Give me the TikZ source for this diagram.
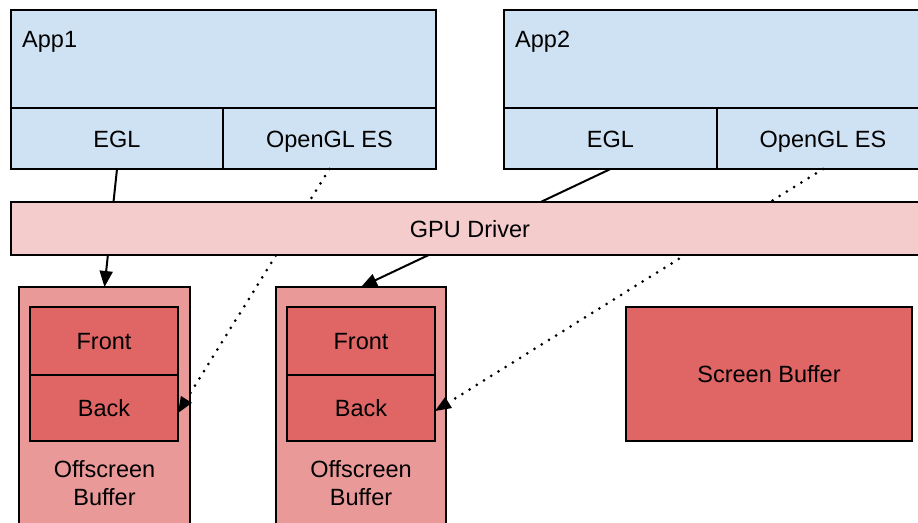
\documentclass[tikz,border=0pt]{standalone}
\usepackage{fontspec}
\setmainfont{Liberation Sans}
\usetikzlibrary{arrows.meta}
\definecolor{appblue}{HTML}{CFE2F3}
\definecolor{gpupink}{HTML}{F4CCCC}
\definecolor{offred}{HTML}{EA9999}
\definecolor{bufred}{HTML}{E06666}
\tikzset{
  box/.style={draw=black, line width=2pt, inner sep=0pt, outer sep=0pt, font=\fontsize{23.5}{28}\selectfont, text height=17pt, text depth=0pt},
  appbox/.style={box, fill=appblue},
  offbox/.style={box, fill=offred},
  bufbox/.style={box, fill=bufred},
  arr/.style={line width=2pt, -{Triangle[length=16pt,width=13pt]}},
  dotarr/.style={line width=3pt, line cap=round, dash pattern=on 0pt off 8.5pt, -{Triangle[length=16pt,width=13pt,line width=0pt]}},
}
\begin{document}
\begin{tikzpicture}[x=1pt,y=-1pt]
\useasboundingbox (0,0) rectangle (918,522);
\clip (0,0) rectangle (918,522);
% App1
\node[appbox, minimum width=425pt, minimum height=98pt] (app1) at (223.5,59) {};
\node[font=\fontsize{23.5}{28}\selectfont, anchor=base west, inner sep=0pt] (app1lbl) at (22,47) {App1};
\node[appbox, minimum width=212pt, minimum height=61pt] (egl1) at (117,138.5) {EGL};
\node[appbox, minimum width=213pt, minimum height=61pt] (gl1) at (329.5,138.5) {OpenGL ES};
% App2
\node[appbox, minimum width=425pt, minimum height=98pt] (app2) at (716.5,59) {};
\node[font=\fontsize{23.5}{28}\selectfont, anchor=base west, inner sep=0pt] (app2lbl) at (515,47) {App2};
\node[appbox, minimum width=213pt, minimum height=61pt] (egl2) at (610.5,138.5) {EGL};
\node[appbox, minimum width=212pt, minimum height=61pt] (gl2) at (823,138.5) {OpenGL ES};
% Offscreen buffers
\node[offbox, minimum width=171pt, minimum height=250pt] (off1) at (104.5,412) {};
\node[bufbox, minimum width=148pt, minimum height=68pt] (front1) at (104,341) {Front};
\node[bufbox, minimum width=148pt, minimum height=66pt] (back1) at (104,408) {Back};
\node[font=\fontsize{23.5}{28}\selectfont, align=center, inner sep=0pt] (off1lbl) at (104.5,483) {Offscreen\\Buffer};
\node[offbox, minimum width=170pt, minimum height=250pt] (off2) at (361,412) {};
\node[bufbox, minimum width=148pt, minimum height=68pt] (front2) at (361,341) {Front};
\node[bufbox, minimum width=148pt, minimum height=66pt] (back2) at (361,408) {Back};
\node[font=\fontsize{23.5}{28}\selectfont, align=center, inner sep=0pt] (off2lbl) at (361,483) {Offscreen\\Buffer};
% Screen buffer
\node[bufbox, minimum width=286pt, minimum height=134pt] (screen) at (769,374) {Screen Buffer};
% Connectors
\draw[arr] (egl1.south) -- (off1.north);
\draw[arr] (egl2.south) -- (off2.north);
\draw[dotarr] (gl1.south) -- ([yshift=-5pt]back1.east);
\draw[dotarr] (gl2.south) -- ([yshift=-3pt]back2.east);
% GPU driver on top
\node[box, fill=gpupink, minimum width=918pt, minimum height=53pt] (gpu) at (470,228.5) {GPU Driver};
\end{tikzpicture}
\end{document}
